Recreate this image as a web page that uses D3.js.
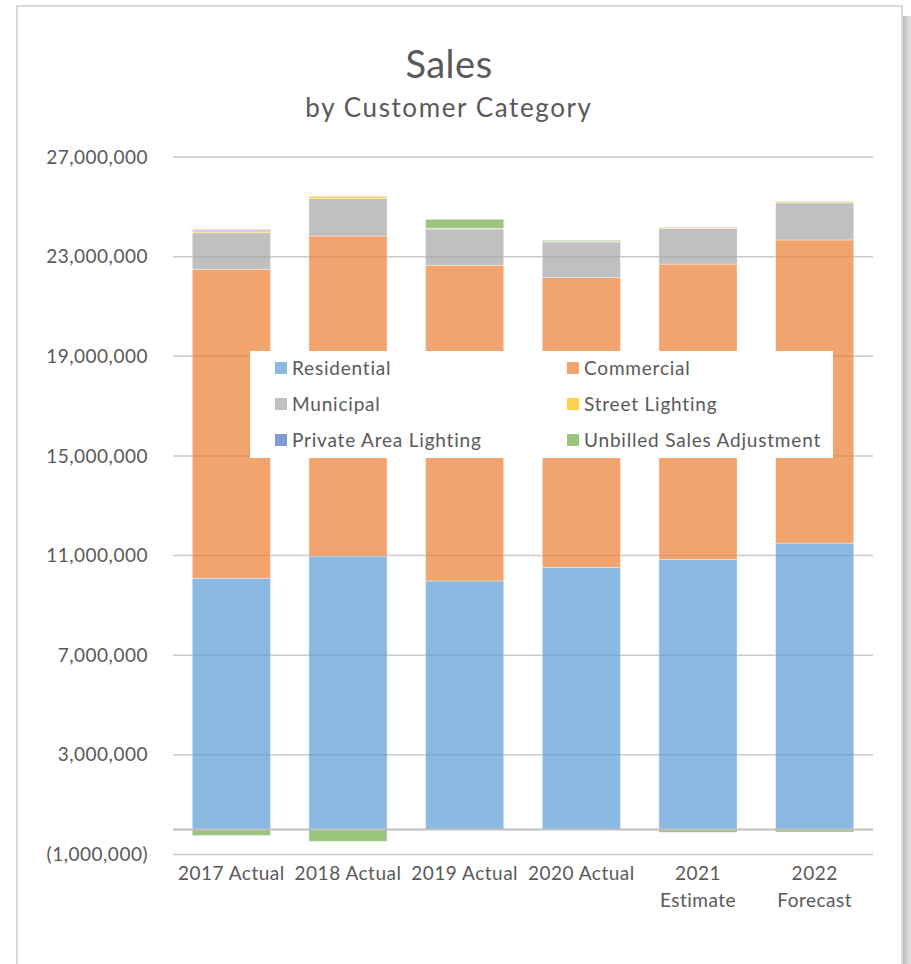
<!DOCTYPE html>
<html>
<head>
<meta charset="utf-8">
<script src="https://cdn.jsdelivr.net/npm/d3@7"></script>
<style>
  body { margin: 0; background: #fff; }
  text { font-family: Lato, "Open Sans", sans-serif; fill: #595959; }
</style>
</head>
<body>
<div id="chart"></div>
<script>
// categories + series (values in units of kWh)
var categories = ['2017 Actual', '2018 Actual', '2019 Actual', '2020 Actual', '2021 Estimate', '2022 Forecast'];
var seriesNames = ['Residential', 'Commercial', 'Municipal', 'Street Lighting', 'Private Area Lighting', 'Unbilled Sales Adjustment'];

var residential   = [10090000, 10980000,  9980000, 10530000, 10840000, 11500000];
var commercial    = [12400000, 12850000, 12670000, 11630000, 11860000, 12170000];
var municipal     = [ 1470000,  1500000,  1460000,  1430000,  1430000,  1490000];
var streetLight   = [   80000,    90000,    20000,    20000,    40000,    50000];
var privateArea   = [   40000,    10000,    10000,    10000,    10000,    10000];
var unbilled      = [ -240000,  -470000,   360000,    40000,  -110000,  -100000];

var yTicks = [-1000000, 3000000, 7000000, 11000000, 15000000, 19000000, 23000000, 27000000];

var COLORS = ['#5B9BD5', '#ED7D31', '#A5A5A5', '#FFC000', '#4472C4', '#70AD47'];

var WIDTH = 911, HEIGHT = 964;
var plot = {left: 173, right: 873, top: 157, bottom: 854.5};

var svg = d3.select('#chart').append('svg')
    .attr('width', WIDTH)
    .attr('height', HEIGHT);

// shadow on the right + chart frame
var defs = svg.append('defs');
var grad = defs.append('linearGradient').attr('id', 'shadow').attr('x1', 0).attr('x2', 1);
grad.append('stop').attr('offset', 0).attr('stop-color', '#b8b8b8');
grad.append('stop').attr('offset', 1).attr('stop-color', '#e6e6e6');
svg.append('rect').attr('x', 902).attr('y', 16).attr('width', 9).attr('height', HEIGHT)
    .attr('fill', 'url(#shadow)');
svg.append('rect').attr('x', 17).attr('y', 6).attr('width', 885).attr('height', HEIGHT + 20)
    .attr('fill', '#fff').attr('stroke', '#d9d9d9').attr('stroke-width', 2);

// titles
svg.append('text').attr('x', 449).attr('y', 78).attr('text-anchor', 'middle')
    .style('font-size', '38px').style('letter-spacing', '0.5px').text('Sales');
svg.append('text').attr('x', 449).attr('y', 117).attr('text-anchor', 'middle')
    .style('font-size', '26px').style('letter-spacing', '1.6px').text('by Customer Category');

var x = d3.scaleBand().domain(categories)
    .range([plot.left, plot.right])
    .paddingInner(0.33).paddingOuter(0.165);

var y = d3.scaleLinear().domain([-1000000, 27000000])
    .range([plot.bottom, plot.top]);

var fmt = d3.format(',');
var tickFmt = v => v < 0 ? '(' + fmt(-v) + ')' : fmt(v);

// gridlines
svg.append('g').selectAll('line')
    .data(yTicks).enter()
    .append('line')
    .attr('x1', plot.left).attr('x2', plot.right)
    .attr('y1', d => y(d)).attr('y2', d => y(d))
    .attr('stroke', '#c9c9c9').attr('stroke-width', 1.5);

// y axis labels
var yAxis = svg.append('g')
    .attr('transform', `translate(${plot.left},0)`)
    .call(d3.axisLeft(y).tickValues(yTicks).tickFormat(tickFmt).tickSize(0).tickPadding(25));
yAxis.select('.domain').remove();
yAxis.selectAll('text').style('font-size', '19px').style('fill', '#595959')
    .style('letter-spacing', '0.5px')
    .style('font-family', 'Lato, sans-serif');

// stacked data
var rows = categories.map((c, i) => ({
  cat: c,
  'Residential': residential[i],
  'Commercial': commercial[i],
  'Municipal': municipal[i],
  'Street Lighting': streetLight[i],
  'Private Area Lighting': privateArea[i],
  'Unbilled Sales Adjustment': unbilled[i]
}));

var stacked = d3.stack().keys(seriesNames).offset(d3.stackOffsetDiverging)(rows);

svg.append('g').selectAll('g')
    .data(stacked).enter()
    .append('g')
    .attr('fill', (d, i) => COLORS[i])
    .attr('fill-opacity', 0.7)
  .selectAll('rect')
    .data(d => d).enter()
    .append('rect')
    .attr('x', d => x(d.data.cat))
    .attr('width', x.bandwidth())
    .attr('y', d => y(Math.max(d[0], d[1])))
    .attr('height', d => Math.abs(y(d[0]) - y(d[1])))
    .attr('stroke', '#fff').attr('stroke-opacity', 0.5).attr('stroke-width', 0.75);

// zero line
svg.append('line')
    .attr('x1', plot.left).attr('x2', plot.right)
    .attr('y1', y(0)).attr('y2', y(0))
    .attr('stroke', '#bfbfbf').attr('stroke-width', 2);

// x labels (wrap two-word labels that Excel broke)
var xLabels = svg.append('g');
categories.forEach(c => {
  var lines = (c.indexOf('Actual') >= 0) ? [c] : c.split(' ');
  var t = xLabels.append('text')
      .attr('x', x(c) + x.bandwidth() / 2)
      .attr('y', 880)
      .attr('text-anchor', 'middle')
      .style('font-size', '19px')
      .style('letter-spacing', '0.5px');
  lines.forEach((l, k) => {
    t.append('tspan').attr('x', x(c) + x.bandwidth() / 2).attr('dy', k === 0 ? 0 : 27).text(l);
  });
});

// legend
var legend = svg.append('g');
legend.append('rect').attr('x', 250).attr('y', 351).attr('width', 583).attr('height', 107).attr('fill', '#fff');
seriesNames.forEach((name, i) => {
  var col = i % 2, row = Math.floor(i / 2);
  var lx = col === 0 ? 275 : 567;
  var ly = 368 + row * 36;
  legend.append('rect').attr('x', lx).attr('y', ly - 6).attr('width', 12).attr('height', 12)
      .attr('fill', COLORS[i]).attr('fill-opacity', 0.7);
  legend.append('text').attr('x', lx + 17).attr('y', ly + 6.5)
      .style('font-size', '19px').style('letter-spacing', '0.8px').text(name);
});
</script>
</body>
</html>
